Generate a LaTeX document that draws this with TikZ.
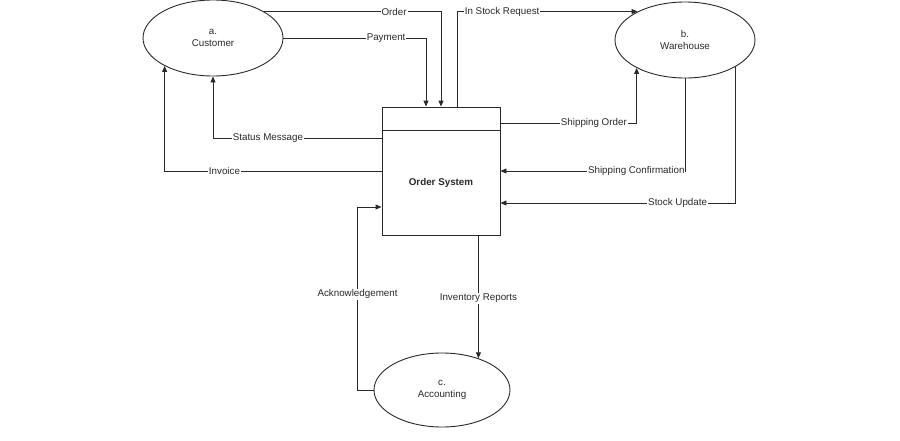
\documentclass[tikz,border=0pt]{standalone}
\usepackage{fontspec}
\setmainfont{Liberation Sans}
\usetikzlibrary{shapes.geometric,arrows.meta}
\definecolor{ink}{HTML}{2A2A2A}
\begin{document}
\begin{tikzpicture}[x=1pt,y=-1pt,
  every node/.style={font=\fontsize{9.8}{11.5}\selectfont, text=ink},
  proc/.style={draw=ink, line width=0.9pt, ellipse, minimum width=140pt, minimum height=76pt, inner sep=0pt, align=center},
  flow/.style={draw=ink, line width=0.9pt},
  arr/.style={flow, -{Triangle[length=6pt,width=5pt]}},
  lbl/.style={fill=white, inner sep=1pt}]
\useasboundingbox[fill=white] (0,0) rectangle (900,440);

\node[proc] (cust) at (213,38) {a.\\Customer};
\node[proc] (wh) at (685,40) {b.\\Warehouse};
\node[proc, minimum width=136pt, minimum height=74pt] (acc) at (442,390) {c.\\Accounting};

\node[draw=ink, line width=0.9pt, minimum width=118pt, minimum height=128pt, inner sep=0pt] (box) at (441,171) {};
\draw[flow] ([yshift=-24pt]box.north west) -- ([yshift=-24pt]box.north east);
\node[font=\bfseries\fontsize{9.8}{11.5}\selectfont] (osys) at (441,183) {Order System};

% customer -> order system
\draw[arr] (cust.27) -| node[lbl, pos=0.367] {Order} (box.north);
\draw[arr] (cust.east) -| node[lbl, pos=0.36] {Payment} (box.north -| 426,0);

% order system -> warehouse
\draw[arr] (box.north -| 457,0) |- node[lbl, pos=0.625] {In Stock Request} (wh.149);
\draw[arr] (box.east |- 0,123) -| node[lbl, pos=0.343] {Shipping Order} (wh.210);

% warehouse -> order system
\draw[arr] (wh.south) |- node[lbl, pos=0.632] {Shipping Confirmation} (box.east |- 0,171);
\draw[arr] (wh.332) |- node[lbl, pos=0.623] {Stock Update} (box.east |- 0,203);

% order system -> customer
\draw[arr] (box.west |- 0,138) -| node[lbl, pos=0.337] {Status Message} (cust.south);
\draw[arr] (box.west |- 0,171) -| node[lbl, pos=0.362] {Invoice} (cust.210);

% accounting
\draw[arr] (acc.west) -- ++(-16,0) |- node[lbl, pos=0.262] {Acknowledgement} (box.west |- 0,207);
\draw[arr] (box.south -| acc.41) -- node[lbl, pos=0.51] {Inventory Reports} (acc.41);
\end{tikzpicture}
\end{document}
